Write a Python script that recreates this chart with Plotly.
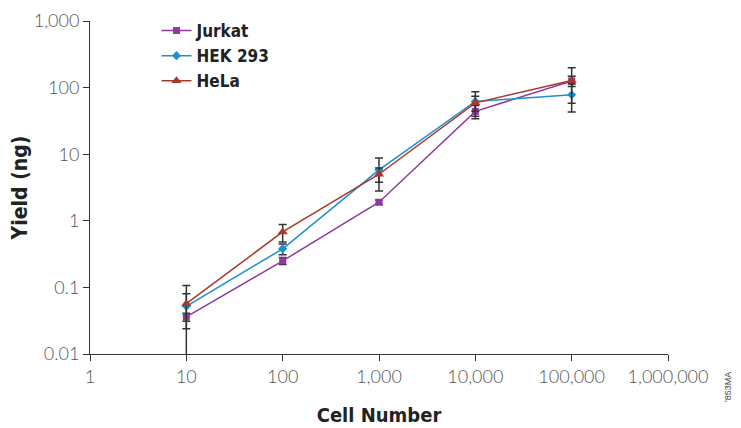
import plotly.graph_objects as go

cell_numbers = [10, 100, 1000, 10000, 100000]

jurkat = [0.036, 0.25, 1.9, 44, 126]
jurkat_err = [0.005, 0.03, 0.15, 10, 22]

hek293 = [0.052, 0.38, 5.8, 62, 78]
hek293_err = [0.028, 0.07, 3.0, 25, 35]

hela = [0.057, 0.68, 5.0, 59, 128]
hela_err = [0.05, 0.2, 1.2, 15, 70]

x_tickvals = [1, 10, 100, 1000, 10000, 100000, 1000000]
x_ticktext = ["1", "10", "100", "1,000", "10,000", "100,000", "1,000,000"]
y_tickvals = [0.01, 0.1, 1, 10, 100, 1000]
y_ticktext = ["0.01", "0.1", "1", "10", "100", "1,000"]

series = [
    ("Jurkat", jurkat, jurkat_err, "#8E3A9D", "square", 7),
    ("HEK 293", hek293, hek293_err, "#1C8FD3", "diamond", 7),
    ("HeLa", hela, hela_err, "#A9372A", "triangle-up", 9),
]

cond = "DejaVu Sans Condensed, sans-serif"
light = "Lato, Liberation Sans, sans-serif"

fig = go.Figure()
for name, vals, errs, color, sym, size in series:
    fig.add_trace(go.Scatter(
        x=cell_numbers, y=vals, name=name, mode="lines+markers",
        line=dict(color=color, width=1.5),
        marker=dict(symbol=sym, size=size, color=color),
        error_y=dict(type="data", array=errs, visible=True,
                     color="#333333", thickness=1.5, width=4),
    ))

# page body has a default 8px margin, so the figure is sized to fit the window
fig.update_layout(
    width=733, height=420,
    margin=dict(l=82, r=73, t=13, b=74, autoexpand=False),
    plot_bgcolor="white", paper_bgcolor="white",
    showlegend=True,
    legend=dict(x=0.115, y=1.024, xanchor="left", yanchor="top",
                font=dict(family=cond, size=17, color="#222222", weight="bold"),
                bgcolor="rgba(0,0,0,0)", tracegroupgap=0, itemwidth=30),
    xaxis=dict(type="log", range=[0, 6], tickvals=x_tickvals, ticktext=x_ticktext,
               showgrid=False, zeroline=False, showline=True, linecolor="#333333",
               linewidth=1, ticks="outside", ticklen=6, tickcolor="#333333",
               automargin=False,
               tickfont=dict(family=light, size=18, color="#555555", weight=300),
               title=dict(text="Cell Number", standoff=22,
                          font=dict(family=cond, size=20, color="#222222", weight="bold"))),
    yaxis=dict(type="log", range=[-2, 3], tickvals=y_tickvals, ticktext=y_ticktext,
               showgrid=False, zeroline=False, showline=True, linecolor="#333333",
               linewidth=1, ticks="outside", ticklen=6, tickcolor="#333333",
               automargin=False,
               tickfont=dict(family=light, size=18, color="#555555", weight=300),
               title=dict(text="Yield (ng)", standoff=2,
                          font=dict(family=cond, size=21, color="#222222", weight="bold"))),
)

fig.add_annotation(text="'853MA", xref="paper", yref="paper", x=1.116, y=-0.15,
                   showarrow=False, textangle=-90,
                   font=dict(family="Liberation Sans, sans-serif", size=9, color="#444444"))

fig.write_html("out.html")
